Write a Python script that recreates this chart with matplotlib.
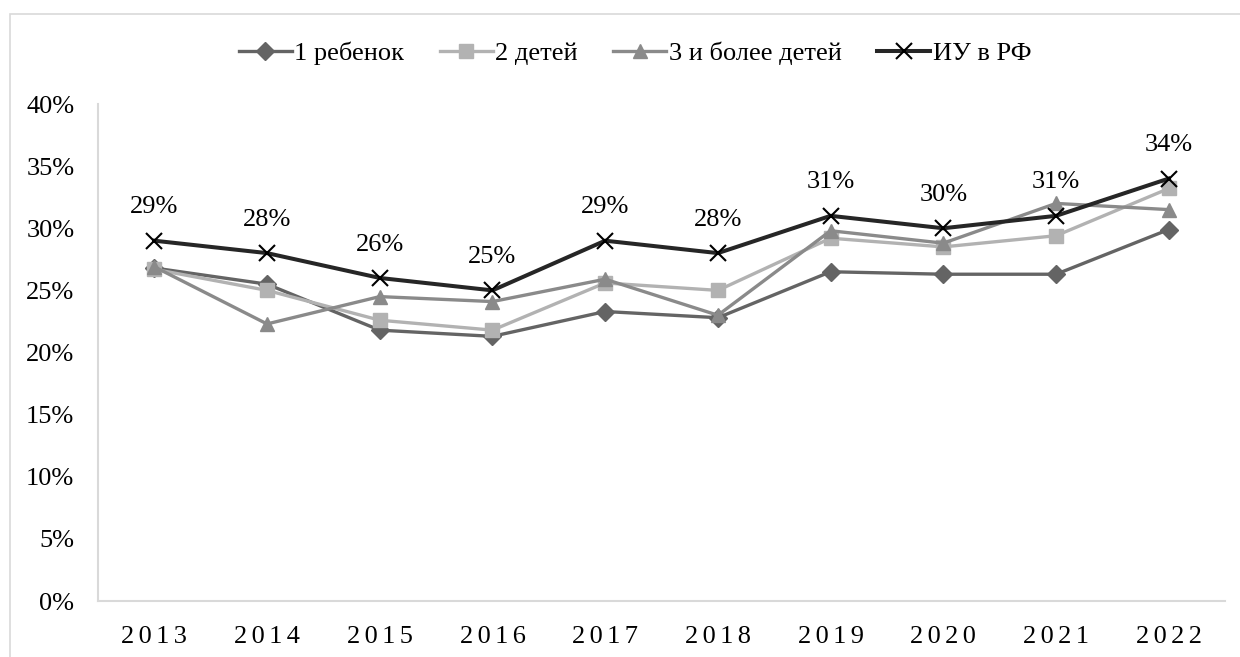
import numpy as np
import matplotlib.pyplot as plt
from matplotlib.patches import Rectangle

plt.rcParams['font.family'] = ['Liberation Serif', 'DejaVu Serif']

years = ['2013', '2014', '2015', '2016', '2017', '2018', '2019', '2020', '2021', '2022']
one_child = [26.8, 25.5, 21.8, 21.3, 23.3, 22.8, 26.5, 26.3, 26.3, 29.9]
two_children = [26.7, 25.0, 22.6, 21.8, 25.6, 25.0, 29.2, 28.5, 29.4, 33.2]
three_plus = [26.9, 22.3, 24.5, 24.1, 25.9, 23.0, 29.8, 28.8, 32.0, 31.5]
iu_rf = [29, 28, 26, 25, 29, 28, 31, 30, 31, 34]

x = np.arange(len(years))
fs = 19

fig = plt.figure(figsize=(12.4, 6.57), dpi=100)
ax = fig.add_axes([0.079, 0.0852, 0.909, 0.7565])

# outer chart frame
fig.patches.append(Rectangle((10 / 1240, -0.1), 1.2, 1 - 14 / 657 + 0.1,
                             transform=fig.transFigure, fill=False,
                             edgecolor='#d9d9d9', lw=1.2))

ax.plot(x, np.array(one_child) / 100, color='#646464', lw=2.4, marker='D',
        markersize=9, label='1 ребенок')
ax.plot(x, np.array(two_children) / 100, color='#b2b2b2', lw=2.4, marker='s',
        markersize=10, label='2 детей')
ax.plot(x, np.array(three_plus) / 100, color='#8a8a8a', lw=2.4, marker='^',
        markersize=10.5, label='3 и более детей')
ax.plot(x, np.array(iu_rf) / 100, color='#262626', lw=2.9, marker='x',
        markersize=11, mec='black', mew=1.5, label='ИУ в РФ')

for xi, v in zip(x, iu_rf):
    ax.annotate(f'{v}%', (xi, v / 100), xytext=(0, 24), textcoords='offset points',
                ha='center', va='center', fontsize=fs)

ax.set_xlim(-0.5, len(years) - 0.5)
ax.set_ylim(0, 0.4)
ax.set_yticks(np.arange(0, 0.41, 0.05))
ax.set_yticklabels([f'{int(round(t * 100))}%' for t in np.arange(0, 0.41, 0.05)], fontsize=fs)
ax.set_xticks(x)
ax.set_xticklabels(['\u2006'.join(y) for y in years], fontsize=fs)
ax.tick_params(axis='x', length=0, pad=18)
ax.tick_params(axis='y', length=0, pad=17)

for s in ['top', 'right']:
    ax.spines[s].set_visible(False)
for s in ['left', 'bottom']:
    ax.spines[s].set_color('#d9d9d9')
    ax.spines[s].set_linewidth(1.5)

fig.legend(loc='center', bbox_to_anchor=(635 / 1240, 1 - 53 / 657), ncol=4,
           frameon=False, fontsize=fs, handlelength=2.0, handletextpad=0.1,
           columnspacing=1.35)

fig.savefig('out.png', dpi=100)
